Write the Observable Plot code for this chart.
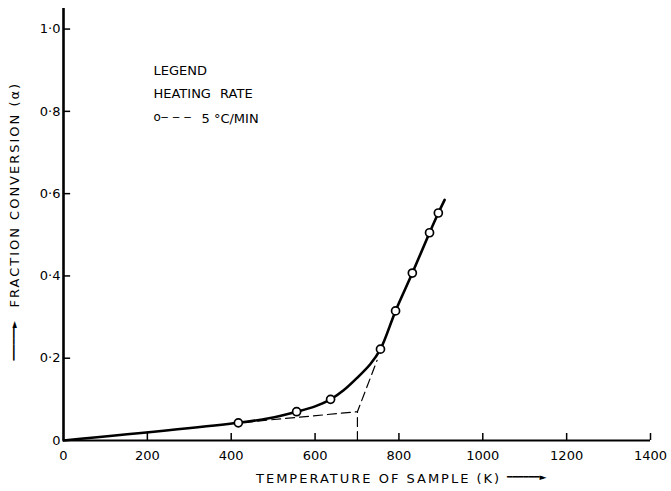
<!DOCTYPE html>
<html><head><meta charset="utf-8">
<script src="https://cdn.jsdelivr.net/npm/d3@7"></script>
<script src="https://cdn.jsdelivr.net/npm/@observablehq/plot@0.6"></script>
<style>body{margin:0;background:#fff}</style>
</head><body><div id="chart"></div>
<script>
// Axis ticks
const xTicks = [0, 200, 400, 600, 800, 1000, 1200, 1400];
const xTickLabels = ["0", "200", "400", "600", "800", "1000", "1200", "1400"];
const yTicks = [0, 0.2, 0.4, 0.6, 0.8, 1.0];
const yTickLabels = ["0", "0·2", "0·4", "0·6", "0·8", "1·0"];

// Solid fitted curve (temperature K, fraction conversion α)
const curveT = [0, 417, 490, 556, 600, 637, 668, 700, 732, 756, 792, 832, 873, 894, 909];
const curveA = [0, 0.043, 0.054, 0.07, 0.083, 0.10, 0.122, 0.152, 0.186, 0.222, 0.315, 0.407, 0.505, 0.553, 0.585];

// Measured points, 5 °C/min
const pointT = [417, 556, 637, 756, 792, 832, 873, 894];
const pointA = [0.043, 0.07, 0.10, 0.222, 0.315, 0.407, 0.505, 0.553];

// Dashed construction lines
const baseT = [430, 701, 748];
const baseA = [0.044, 0.070, 0.195];
const dropT = [701, 701];
const dropA = [0, 0.070];

// Text
const xTitle = "TEMPERATURE OF SAMPLE (K)";
const yTitle = "FRACTION CONVERSION (α)";
const legendTitle = "LEGEND";
const legendSubtitle = "HEATING RATE";
const legendSymbol = "o‒ ‒ ‒";
const legendItem = "5 °C/MIN";
const arrow = "━━━━━━►";

const zip = (xs, ys) => xs.map((x, i) => ({x, y: ys[i]}));
const label = (s, o) => Plot.text([s], {text: d => d, lineAnchor: "middle", fill: "#000", ...o});

const plot = Plot.plot({
  width: 671, height: 491,
  marginLeft: 63, marginRight: 21, marginTop: 8, marginBottom: 51,
  style: {fontFamily: "DejaVu Sans", fontSize: "13px", color: "#000", background: "#fff", overflow: "visible"},
  x: {domain: [0, 1400], ticks: xTicks, tickFormat: d => xTickLabels[xTicks.indexOf(d)], tickSize: 0, tickPadding: 10, label: null},
  y: {domain: [0, 1.05], ticks: yTicks, tickFormat: d => yTickLabels[yTicks.findIndex(v => Math.abs(v - d) < 1e-9)], tickSize: 0, tickPadding: 3, label: null},
  marks: [
    // axis lines
    Plot.ruleY([0], {stroke: "#000", strokeWidth: 2}),
    Plot.ruleX([0], {y1: 0, y2: 1.05, stroke: "#000", strokeWidth: 2.6}),
    // inward ticks
    Plot.ruleX(xTicks.slice(1), {y1: 0, y2: 0.017, stroke: "#000", strokeWidth: 1.5}),
    Plot.ruleY(yTicks.slice(1), {x1: 0, x2: 17, stroke: "#000", strokeWidth: 1.5}),
    // dashed construction
    Plot.line(zip(baseT, baseA), {x: "x", y: "y", stroke: "#000", strokeWidth: 1.2, strokeDasharray: "9,5"}),
    Plot.line(zip(dropT, dropA), {x: "x", y: "y", stroke: "#000", strokeWidth: 1.2, strokeDasharray: "9,5"}),
    // solid curve
    Plot.line(zip(curveT, curveA), {x: "x", y: "y", curve: "catmull-rom", stroke: "#000", strokeWidth: 2.6}),
    // points
    Plot.dot(zip(pointT, pointA), {x: "x", y: "y", r: 4, stroke: "#000", fill: "#fff", strokeWidth: 1.7}),
    // titles
    label(xTitle, {frameAnchor: "bottom", textAnchor: "start", dx: -101, dy: 38, fontSize: 13}),
    label(arrow, {frameAnchor: "bottom", textAnchor: "start", dx: 150, dy: 37, fontSize: 9}),
    label(yTitle, {frameAnchor: "left", textAnchor: "start", rotate: -90, dx: -49, dy: 83, fontSize: 13}),
    label(arrow, {frameAnchor: "left", textAnchor: "start", rotate: -90, dx: -49, dy: 136, fontSize: 9}),
    // legend
    label(legendTitle, {frameAnchor: "top-left", textAnchor: "start", dx: 90, dy: 62, fontSize: 13}),
    label(legendSubtitle, {frameAnchor: "top-left", textAnchor: "start", dx: 90, dy: 85, fontSize: 13}),
    label(legendSymbol, {frameAnchor: "top-left", textAnchor: "start", dx: 90, dy: 109, fontSize: 12}),
    label(legendItem, {frameAnchor: "top-left", textAnchor: "start", dx: 138, dy: 110, fontSize: 13}),
  ]
});
plot.querySelectorAll("text").forEach(t => {
  const s = t.textContent;
  if (s === xTitle || s === yTitle) t.setAttribute("letter-spacing", "2");
  if (s === legendSubtitle) t.setAttribute("word-spacing", "5");
});
document.getElementById("chart").appendChild(plot);
</script>
</body></html>
